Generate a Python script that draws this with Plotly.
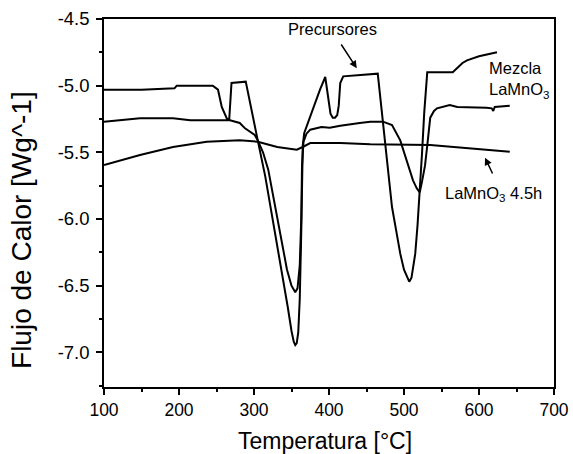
import plotly.graph_objects as go

# Curva "Precursores"
temp_prec = [100, 150, 194, 197, 245, 250, 252, 257, 261, 264, 267, 268, 270, 289,
             297, 305, 315, 325, 337, 345, 350, 353, 355, 357, 359, 361, 363, 364,
             365, 367, 381, 388, 395, 402, 405, 408, 411, 413, 415, 419, 465, 472,
             479, 484, 490, 495, 500, 504, 507, 510, 513, 515, 518, 521, 524, 527,
             531, 565, 572, 578, 584, 600, 624]
flujo_prec = [-5.03, -5.03, -5.02, -5.00, -5.00, -5.02, -5.03, -5.16, -5.22, -5.25,
              -5.25, -5.12, -4.98, -4.97, -5.18, -5.41, -5.68, -6.00, -6.38, -6.66,
              -6.84, -6.92, -6.945, -6.93, -6.85, -6.60, -6.10, -5.70, -5.45, -5.355,
              -5.13, -5.03, -4.935, -5.21, -5.24, -5.24, -5.22, -5.15, -4.98, -4.93,
              -4.91, -5.27, -5.63, -5.91, -6.10, -6.26, -6.38, -6.44, -6.47, -6.44,
              -6.35, -6.26, -6.05, -5.81, -5.51, -5.20, -4.90, -4.90, -4.86, -4.83,
              -4.81, -4.78, -4.75]

# Curva "Mezcla LaMnO3"
temp_mezcla = [100, 148, 192, 215, 268, 281, 288, 301, 305, 312, 319, 330, 344, 350,
               355, 358, 361, 363, 364, 366, 370, 375, 390, 401, 415, 441, 455, 472,
               484, 495, 504, 512, 517, 521, 524, 528, 531, 533, 535, 540, 544, 561,
               571, 610, 617, 619, 621, 641]
flujo_mezcla = [-5.27, -5.245, -5.245, -5.26, -5.26, -5.28, -5.32, -5.37, -5.41, -5.50,
                -5.63, -5.95, -6.38, -6.50, -6.55, -6.52, -6.35, -6.00, -5.60, -5.42,
                -5.36, -5.33, -5.31, -5.315, -5.30, -5.28, -5.27, -5.27, -5.295, -5.41,
                -5.56, -5.71, -5.77, -5.80, -5.72, -5.60, -5.45, -5.32, -5.24, -5.19,
                -5.17, -5.145, -5.16, -5.165, -5.17, -5.19, -5.16, -5.15]

# Curva "LaMnO3 4.5h"
temp_45h = [100, 148, 192, 237, 281, 305, 331, 350, 357, 365, 375, 415, 455, 535, 590, 641]
flujo_45h = [-5.595, -5.52, -5.46, -5.42, -5.41, -5.42, -5.46, -5.475, -5.48, -5.46,
             -5.43, -5.43, -5.44, -5.445, -5.47, -5.495]

x_ticks = [100, 200, 300, 400, 500, 600, 700]
y_ticks = [-4.5, -5.0, -5.5, -6.0, -6.5, -7.0]
y_labels = ["-4.5", "-5.0", "-5.5", "-6.0", "-6.5", "-7.0"]

font_name = "Liberation Sans, Arial, sans-serif"

fig = go.Figure()
for t, f in [(temp_prec, flujo_prec), (temp_mezcla, flujo_mezcla), (temp_45h, flujo_45h)]:
    fig.add_trace(go.Scatter(x=t, y=f, mode="lines", line=dict(color="black", width=2),
                             showlegend=False, hoverinfo="skip"))

# Etiquetas y flechas
fig.add_annotation(x=405, y=-4.575, text="Precursores", showarrow=False,
                   font=dict(size=16.5, color="black"))
fig.add_annotation(x=437, y=-4.87, ax=415, ay=-4.68, axref="x", ayref="y", text="",
                   showarrow=True, arrowhead=2, arrowsize=1, arrowwidth=1.5, arrowcolor="black")
fig.add_annotation(x=611, y=-4.96, text="Mezcla<br>LaMnO<sub>3</sub>", showarrow=False,
                   xanchor="left", align="left", font=dict(size=16.5, color="black"))
fig.add_annotation(x=552, y=-5.81, text="LaMnO<sub>3</sub> 4.5h", showarrow=False,
                   xanchor="left", font=dict(size=16.5, color="black"))
fig.add_annotation(x=608, y=-5.54, ax=619, ay=-5.67, axref="x", ayref="y", text="",
                   showarrow=True, arrowhead=2, arrowsize=1, arrowwidth=1.5, arrowcolor="black")

# Títulos de ejes
fig.add_annotation(xref="paper", yref="paper", x=0.49, y=-0.147, xanchor="center", yanchor="middle",
                   text="Temperatura [°C]", showarrow=False, font=dict(size=23, color="black"))
fig.add_annotation(xref="paper", yref="paper", x=-0.182, y=0.427, xanchor="center", yanchor="middle",
                   text="Flujo de Calor [Wg^-1]", textangle=-90, showarrow=False,
                   font=dict(size=28, color="black"))

fig.update_layout(
    width=573, height=454,
    margin=dict(l=104, r=19, t=19, b=67),
    paper_bgcolor="white", plot_bgcolor="white",
    font=dict(family=font_name, color="black"),
)
fig.update_xaxes(
    range=[100, 700], tickvals=x_ticks, automargin=False,
    ticks="outside", ticklen=6, tickwidth=1.5, tickcolor="black",
    minor=dict(dtick=50, ticks="outside", ticklen=3, tickcolor="black"),
    showline=True, linecolor="black", linewidth=1.5, mirror=True, showgrid=False, zeroline=False,
    tickfont=dict(size=17.5),
)
fig.update_yaxes(
    range=[-7.26, -4.5], tickvals=y_ticks, ticktext=y_labels, automargin=False,
    ticks="outside", ticklen=6, tickwidth=1.5, tickcolor="black", ticklabelstandoff=3,
    minor=dict(dtick=0.25, tick0=-4.5, ticks="outside", ticklen=3, tickcolor="black"),
    showline=True, linecolor="black", linewidth=1.5, mirror=True, showgrid=False, zeroline=False,
    tickfont=dict(size=18.5),
)

fig.write_html("out.html", config={"displayModeBar": False},
               post_script="document.body.style.margin='0';")
